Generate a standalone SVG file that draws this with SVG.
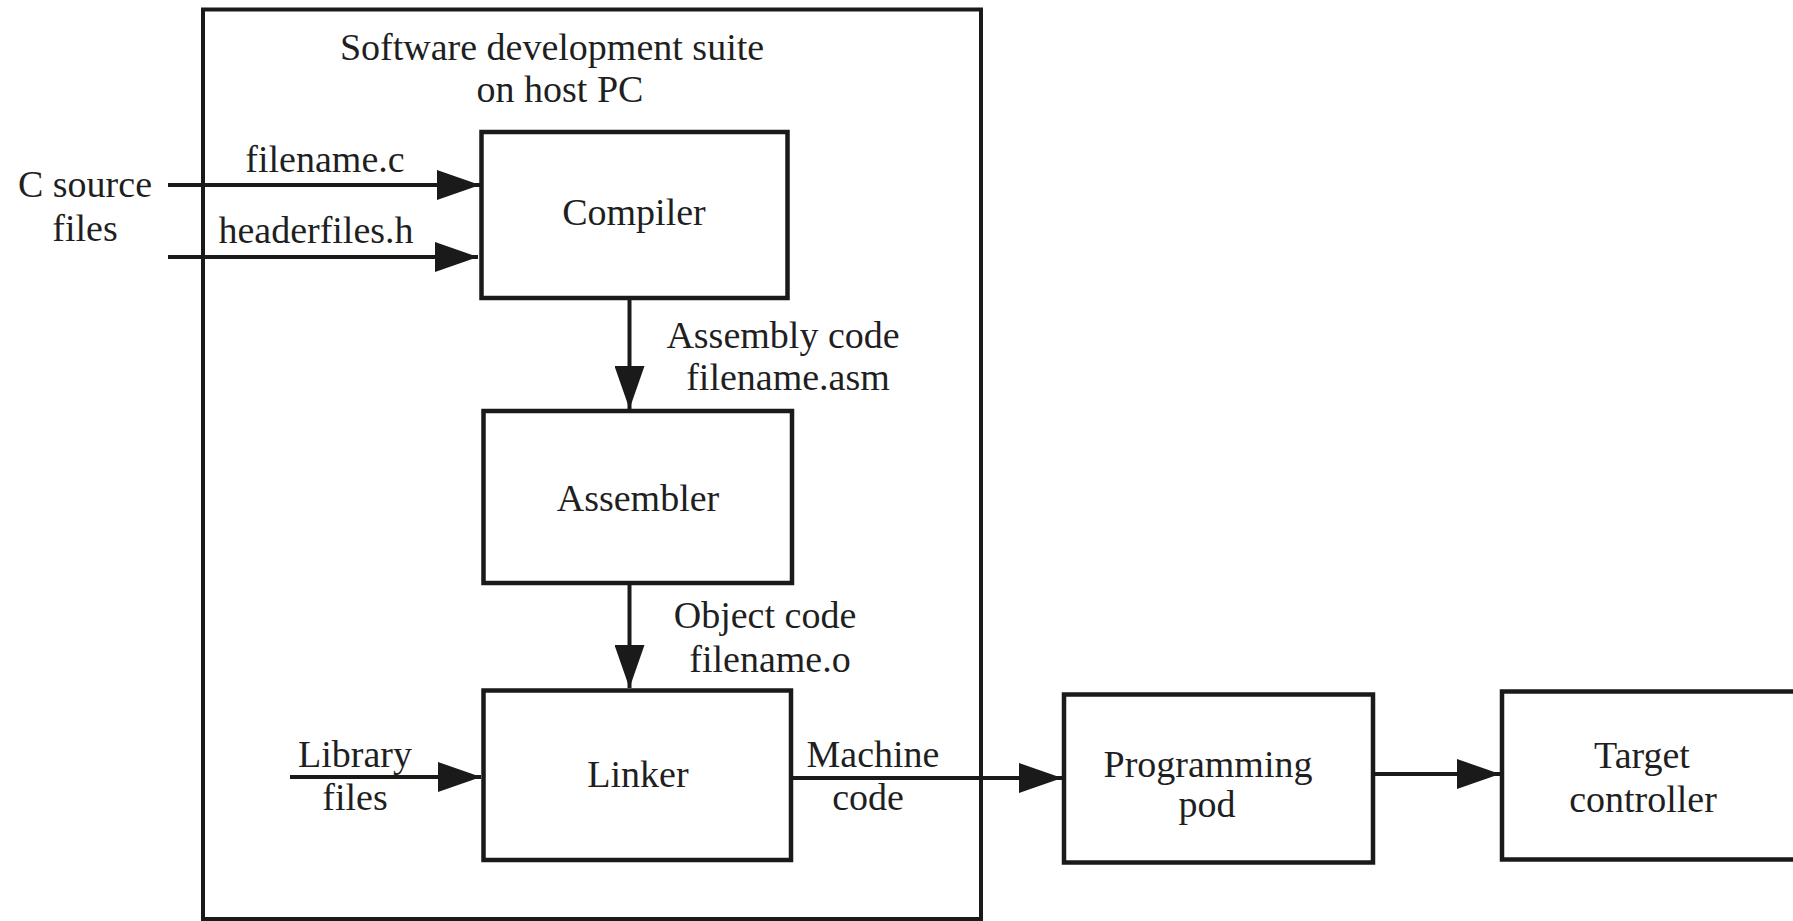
<svg xmlns="http://www.w3.org/2000/svg" width="1793" height="921" viewBox="0 0 1793 921">
<style>
  .box{fill:none;stroke:#1a1a1a;stroke-width:4.5}
  .outer{fill:none;stroke:#1a1a1a;stroke-width:4}
  .ln{stroke:#1a1a1a;stroke-width:4;fill:none}
  text{font-family:"Liberation Serif","Times New Roman",serif;font-size:38px;fill:#1f1f1f;text-anchor:middle}
</style>
<defs>
  <marker id="ah" markerUnits="userSpaceOnUse" markerWidth="44" markerHeight="30" refX="43" refY="15" orient="auto" viewBox="0 0 44 30">
    <path d="M0,0 L43,15 L0,30 z" fill="#1a1a1a"/>
  </marker>
</defs>
<rect width="1793" height="921" fill="#ffffff"/>
<g id="suite">
  <rect class="outer" x="203" y="9.5" width="778" height="909.5"/>
  <text x="552" y="60">Software development suite</text>
  <text x="560" y="102">on host PC</text>
</g>
<g id="csource">
  <text x="85" y="197">C source</text>
  <text x="85" y="241">files</text>
</g>
<g id="compiler">
  <rect class="box" x="481.5" y="132" width="306" height="166"/>
  <text x="634" y="225">Compiler</text>
</g>
<g id="assembler">
  <rect class="box" x="483.5" y="411" width="308.5" height="172"/>
  <text x="638" y="511">Assembler</text>
</g>
<g id="linker">
  <rect class="box" x="483.5" y="690.5" width="307.5" height="169.5"/>
  <text x="638" y="787">Linker</text>
</g>
<g id="library">
  <text x="355" y="767">Library</text>
  <text x="355" y="810">files</text>
</g>
<g id="pod">
  <rect class="box" x="1064" y="694.5" width="309" height="168"/>
  <text x="1208" y="777">Programming</text>
  <text x="1207" y="817">pod</text>
</g>
<g id="target">
  <rect class="box" x="1502" y="691.5" width="310" height="168"/>
  <text x="1642" y="768">Target</text>
  <text x="1643" y="812">controller</text>
</g>
<g id="connectors">
  <line class="ln" x1="168" y1="185" x2="480" y2="185" marker-end="url(#ah)"/>
  <line class="ln" x1="168" y1="257" x2="478" y2="257" marker-end="url(#ah)"/>
  <line class="ln" x1="629.5" y1="298" x2="629.5" y2="409" marker-end="url(#ah)"/>
  <line class="ln" x1="629.5" y1="583" x2="629.5" y2="688" marker-end="url(#ah)"/>
  <line class="ln" x1="290" y1="777" x2="481" y2="777" marker-end="url(#ah)"/>
  <line class="ln" x1="791" y1="778" x2="1062" y2="778" marker-end="url(#ah)"/>
  <line class="ln" x1="1373" y1="774" x2="1500" y2="774" marker-end="url(#ah)"/>
  <text x="325" y="172">filename.c</text>
  <text x="316" y="243">headerfiles.h</text>
  <text x="783" y="348">Assembly code</text>
  <text x="788" y="390">filename.asm</text>
  <text x="765" y="628">Object code</text>
  <text x="770" y="672">filename.o</text>
  <text x="873" y="767">Machine</text>
  <text x="868" y="810">code</text>
</g>
</svg>
